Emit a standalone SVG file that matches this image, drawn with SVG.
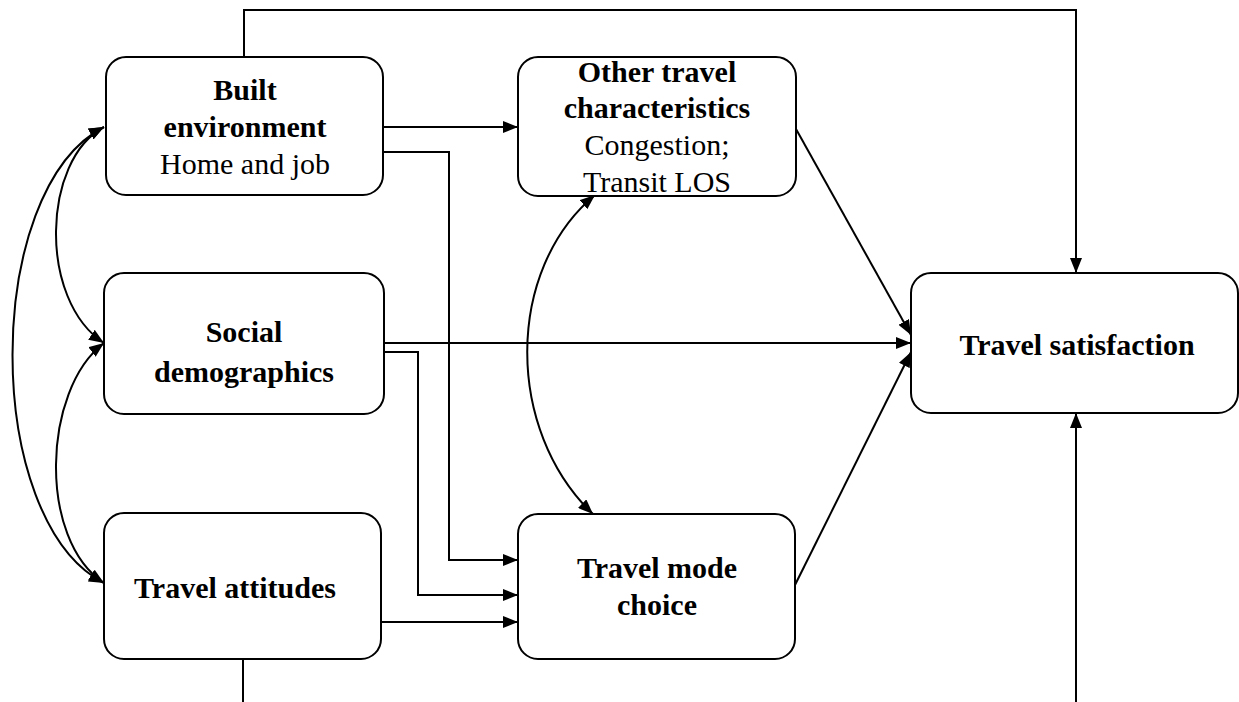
<svg xmlns="http://www.w3.org/2000/svg" width="1239" height="702" viewBox="0 0 1239 702">
<style>
.box{fill:#fff;stroke:#000;stroke-width:2}
.t{font-family:"Liberation Serif",serif;font-size:30px;text-anchor:middle;fill:#000}
.b{font-weight:bold}
.c{fill:none;stroke:#000;stroke-width:2}
</style>
<defs>
<marker id="ah" viewBox="0 0 15 12" refX="15" refY="6" markerWidth="15" markerHeight="12" markerUnits="userSpaceOnUse" orient="auto-start-reverse"><path d="M0,0 L15,6 L0,12 z" fill="#000"/></marker>
</defs>
<rect width="1239" height="702" fill="#fff"/>
<g id="connectors">
<path class="c" d="M244,57 V10 H1076 V273" marker-end="url(#ah)"/>
<path class="c" d="M243,659 V702"/>
<path class="c" d="M1076,702 V413" marker-end="url(#ah)"/>
<path class="c" d="M383,127 H518" marker-end="url(#ah)"/>
<path class="c" d="M383,152 H449 V560 H518" marker-end="url(#ah)"/>
<path class="c" d="M384,343 H911" marker-end="url(#ah)"/>
<path class="c" d="M384,352 H418 V595 H518" marker-end="url(#ah)"/>
<path class="c" d="M381,622 H518" marker-end="url(#ah)"/>
<path class="c" d="M796,129 L911,335" marker-end="url(#ah)"/>
<path class="c" d="M795,585 L911,352" marker-end="url(#ah)"/>
<path class="c" d="M104,127 C42,160 38,300 104,343" marker-start="url(#ah)" marker-end="url(#ah)"/>
<path class="c" d="M104,127 C-18,190 -18,520 104,583" marker-start="url(#ah)" marker-end="url(#ah)"/>
<path class="c" d="M104,343 C42,390 38,540 104,583" marker-start="url(#ah)" marker-end="url(#ah)"/>
<path class="c" d="M595,195 C505,270 505,430 593,514" marker-start="url(#ah)" marker-end="url(#ah)"/>
</g>
<g id="built">
<rect class="box" x="106" y="57" width="277" height="138" rx="20"/>
<text class="t b" x="245" y="100">Built</text>
<text class="t b" x="245" y="137">environment</text>
<text class="t" x="245" y="174">Home and job</text>
</g>
<g id="other">
<rect class="box" x="518" y="57" width="278" height="139" rx="20"/>
<text class="t b" x="657" y="82">Other travel</text>
<text class="t b" x="657" y="118">characteristics</text>
<text class="t" x="657" y="155">Congestion;</text>
<text class="t" x="657" y="192">Transit LOS</text>
</g>
<g id="social">
<rect class="box" x="104" y="273" width="280" height="141" rx="20"/>
<text class="t b" x="244" y="342">Social</text>
<text class="t b" x="244" y="382">demographics</text>
</g>
<g id="attitudes">
<rect class="box" x="104" y="513" width="277" height="146" rx="20"/>
<text class="t b" x="235" y="598">Travel attitudes</text>
</g>
<g id="mode">
<rect class="box" x="518" y="514" width="277" height="145" rx="20"/>
<text class="t b" x="657" y="578">Travel mode</text>
<text class="t b" x="657" y="615">choice</text>
</g>
<g id="satisfaction">
<rect class="box" x="911" y="273" width="327" height="140" rx="20"/>
<text class="t b" x="1077" y="355">Travel satisfaction</text>
</g>
</svg>
